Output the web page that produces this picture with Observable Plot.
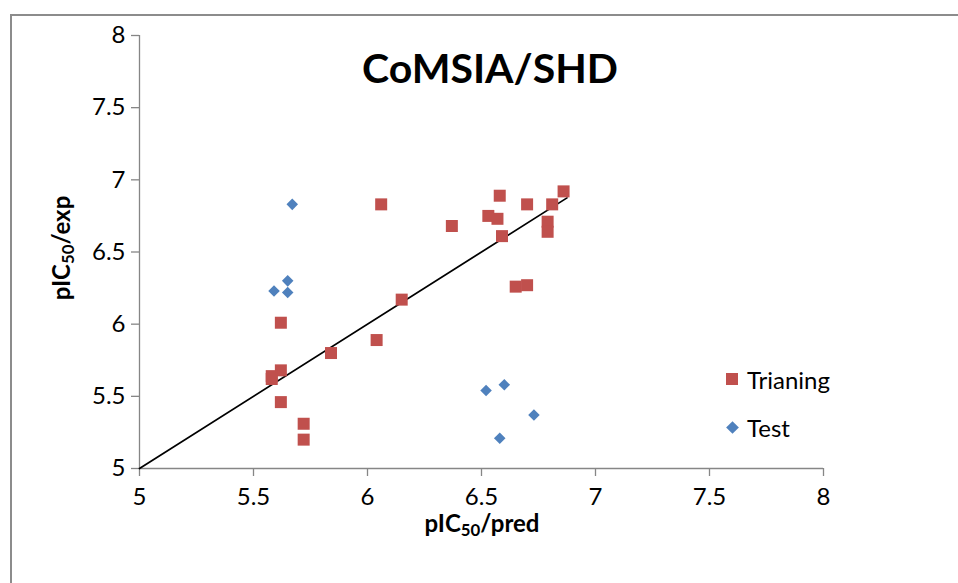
<!DOCTYPE html>
<html><head><meta charset="utf-8">
<script src="https://cdn.jsdelivr.net/npm/d3@7"></script>
<script src="https://cdn.jsdelivr.net/npm/@observablehq/plot@0.6"></script>
<style>
html,body{margin:0;padding:0;background:#fff;overflow:hidden;}
#wrap{position:relative;width:958px;height:583px;font-family:Lato,"Open Sans",sans-serif;color:#000;}
#wrap svg{position:absolute;left:0;top:0;}
.frame{position:absolute;left:10px;top:14px;width:980px;height:620px;border:2px solid #8c8c8c;box-sizing:border-box;}
.title{position:absolute;left:490px;top:67px;transform:translate(-50%,-50%);font-weight:bold;font-size:41px;white-space:nowrap;}
.xlab{position:absolute;left:482px;top:522px;transform:translate(-50%,-50%);font-weight:bold;font-size:24px;white-space:nowrap;}
.ylab{position:absolute;left:60px;top:248px;transform:translate(-50%,-50%) rotate(-90deg);font-weight:bold;font-size:24px;white-space:nowrap;}
sub{font-size:0.7em;vertical-align:-0.25em;line-height:0;}
.leg{position:absolute;left:726px;font-size:24px;display:flex;align-items:center;white-space:nowrap;height:26px;}
.sw{display:inline-block;width:12px;height:12px;margin-right:9px;}
.sw.d{width:9px;height:9px;transform:rotate(45deg);margin-left:1.5px;margin-right:10.5px;}
</style></head><body><div id="wrap"><div class="frame"></div></div>
<script>
// Training set: predicted vs experimental pIC50
const trainPred = [6.06, 6.37, 6.58, 6.53, 6.57, 6.59, 6.70, 6.79, 6.79, 6.81, 6.86, 6.65, 6.70, 6.15, 6.04, 5.84, 5.62, 5.62, 5.58, 5.58, 5.62, 5.72, 5.72];
const trainExp  = [6.83, 6.68, 6.89, 6.75, 6.73, 6.61, 6.83, 6.71, 6.64, 6.83, 6.92, 6.26, 6.27, 6.17, 5.89, 5.80, 6.01, 5.68, 5.64, 5.62, 5.46, 5.31, 5.20];
// Test set
const testPred = [5.67, 5.59, 5.65, 5.65, 6.52, 6.60, 6.58, 6.73];
const testExp  = [6.83, 6.23, 6.30, 6.22, 5.54, 5.58, 5.21, 5.37];
// Trend line endpoints
const lineX = [5, 6.875];
const lineY = [5, 6.875];
const xTicks = [5, 5.5, 6, 6.5, 7, 7.5, 8];
const yTicks = [5, 5.5, 6, 6.5, 7, 7.5, 8];
const seriesNames = ["Trianing", "Test"];
const seriesColors = ["#C0504D", "#4F81BD"];
const titleText = "CoMSIA/SHD";

const train = trainPred.map((x, i) => ({x, y: trainExp[i]}));
const test = testPred.map((x, i) => ({x, y: testExp[i]}));
const line = lineX.map((x, i) => ({x, y: lineY[i]}));
const FONT = "Lato, 'Open Sans', sans-serif";

const plot = Plot.plot({
  width: 958, height: 583,
  marginLeft: 139, marginRight: 135, marginTop: 35, marginBottom: 115,
  x: {domain: [5, 8], axis: null},
  y: {domain: [5, 8], axis: null},
  style: {fontFamily: FONT, background: "transparent", color: "#000", overflow: "visible"},
  marks: [
    Plot.ruleX([5], {stroke: "#868686", strokeWidth: 1.3}),
    Plot.ruleY([5], {stroke: "#868686", strokeWidth: 1.3}),
    // tick marks
    Plot.ruleX(xTicks, {x: d => d, y1: 5, y2: 5, insetBottom: -8, stroke: "#868686", strokeWidth: 1.3}),
    Plot.ruleY(yTicks, {y: d => d, x1: 5, x2: 5, insetLeft: -8, stroke: "#868686", strokeWidth: 1.3}),
    // tick labels
    Plot.text(xTicks, {x: d => d, frameAnchor: "bottom", lineAnchor: "top", dy: 19, text: d => String(d), fontSize: 24, fontFamily: FONT, fill: "#000"}),
    Plot.text(yTicks, {y: d => d, frameAnchor: "left", textAnchor: "end", dx: -14, text: d => String(d), fontSize: 24, fontFamily: FONT, fill: "#000"}),
    Plot.line(line, {x: "x", y: "y", stroke: "#000", strokeWidth: 1.75}),
    Plot.dot(train, {x: "x", y: "y", symbol: "square", r: 6.77, fill: seriesColors[0], stroke: null}),
    Plot.dot(test, {x: "x", y: "y", symbol: "diamond2", r: 5.2, fill: seriesColors[1], stroke: null})
  ]
});
const wrap = document.getElementById("wrap");
wrap.appendChild(plot);

function addDiv(cls, html, top) {
  const d = document.createElement("div");
  d.className = cls;
  d.innerHTML = html;
  if (top != null) d.style.top = top + "px";
  wrap.appendChild(d);
  return d;
}
addDiv("title", titleText);
addDiv("xlab", "pIC<sub>50</sub>/pred");
addDiv("ylab", "pIC<sub>50</sub>/exp");
const legTops = [366, 414];
seriesNames.forEach((name, i) => {
  const cls = i === 0 ? "sw" : "sw d";
  addDiv("leg", `<span class="${cls}" style="background:${seriesColors[i]}"></span><span>${name}</span>`, legTops[i]);
});
</script></body></html>
